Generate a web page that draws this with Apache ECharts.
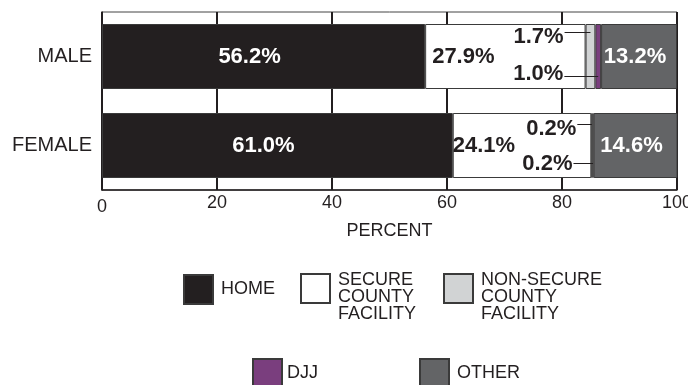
<!DOCTYPE html>
<html>
<head>
<meta charset="utf-8">
<script src="https://cdn.jsdelivr.net/npm/echarts@6/dist/echarts.min.js"></script>
<style>
html, body { margin: 0; padding: 0; background: #fff; }
#main { width: 688px; height: 385px; }
</style>
</head>
<body>
<div id="main"></div>
<script>
// data
var categories = ['MALE', 'FEMALE'];
var seriesNames = ['HOME', 'SECURE COUNTY FACILITY', 'NON-SECURE COUNTY FACILITY', 'DJJ', 'OTHER'];
var homeData = [56.2, 61.0];
var secureData = [27.9, 24.1];
var nonSecureData = [1.7, 0.2];
var djjData = [1.0, 0.2];
var otherData = [13.2, 14.6];
var xTicks = [0, 20, 40, 60, 80, 100];

var colors = ['#231f20', '#ffffff', '#d1d3d4', '#7a3e7e', '#636466'];
var ink = '#231f20';
var font = 'Liberation Sans, Arial, Helvetica, sans-serif';
var barH = 65;

var chart = echarts.init(document.getElementById('main'));

function pct(p) {
    return p.value.toFixed(1) + '%';
}

function bigLabel(color, extra) {
    var l = {
        show: true,
        formatter: pct,
        color: color,
        fontFamily: font,
        fontWeight: 'bold',
        fontSize: 22
    };
    for (var k in extra) l[k] = extra[k];
    return l;
}

function barSeries(i, data, label, more) {
    var s = {
        name: seriesNames[i],
        type: 'bar',
        stack: 'total',
        barWidth: barH,
        data: data,
        itemStyle: { color: colors[i], borderColor: '#3a3a3a', borderWidth: 1 },
        label: label,
        emphasis: { disabled: true }
    };
    for (var k in more) s[k] = more[k];
    return s;
}

// offsets of the pulled-out labels for the thin segments (male / female)
var upperGap = [22, 15], upperText = [13, 16], upperLine = [8, 11];
var lowerGap = [32, 20], lowerText = [15.5, 14.5], lowerLine = [13, 15];

function calloutLayout(upper) {
    return function (p) {
        var r = p.rect;
        var i = p.dataIndex;
        var right = r.x - (upper ? upperGap[i] : lowerGap[i]);
        var y = upper ? r.y + upperText[i] : r.y + r.height - lowerText[i];
        return { x: right, y: y, align: 'right', verticalAlign: 'middle' };
    };
}

var secureItems = secureData.map(function (v, i) {
    return { value: v, label: { distance: i === 0 ? 7 : 0 } };
});

// leader lines from the pulled-out labels to the thin segments
var calloutData = categories.map(function (c, i) {
    return [homeData[i] + secureData[i], nonSecureData[i], djjData[i], i];
});

function renderCallouts(params, api) {
    var start = api.value(0), ns = api.value(1), dj = api.value(2), i = api.value(3);
    var p0 = api.coord([start, i]);
    var p1 = api.coord([start + ns, i]);
    var nsMid = api.coord([start + ns / 2, i])[0];
    var djMid = api.coord([start + ns + dj / 2, i])[0];
    var top = p0[1] - barH / 2, bottom = p0[1] + barH / 2;
    var y1 = Math.round(top + upperLine[i]) + 0.5;
    var y2 = Math.round(bottom - lowerLine[i]) + 0.5;
    var style = { stroke: ink, lineWidth: 1 };
    return {
        type: 'group',
        children: [
            { type: 'line', shape: { x1: p0[0] - upperGap[i] + 1, y1: y1, x2: nsMid, y2: y1 }, style: style },
            { type: 'line', shape: { x1: p1[0] - lowerGap[i] + 1, y1: y2, x2: djMid, y2: y2 }, style: style }
        ]
    };
}

function legendItem(i, left, top, padLeft) {
    var multi = i === 1 || i === 2;
    return {
        data: [seriesNames[i]],
        left: left,
        top: top,
        padding: 0,
        icon: 'rect',
        itemWidth: 29,
        itemHeight: 29,
        selectedMode: false,
        formatter: function (name) {
            var t = name.replace(' COUNTY', '\nCOUNTY').replace(' FACILITY', '\nFACILITY');
            return multi ? ' \n' + t : t;
        },
        textStyle: {
            fontFamily: font,
            fontSize: 18,
            lineHeight: 17,
            color: ink,
            padding: [0, 0, 0, padLeft]
        }
    };
}

var option = {
    animation: false,
    textStyle: { fontFamily: font },
    grid: {
        left: 102,
        right: 11,
        top: 12,
        bottom: 195,
        show: true,
        borderColor: '#444',
        borderWidth: 1,
        outerBoundsMode: 'none'
    },
    legend: [
        legendItem(0, 183, 274, 3),
        legendItem(1, 300, 254, 3),
        legendItem(2, 443, 254, 3),
        legendItem(3, 252, 358, 0),
        legendItem(4, 419, 358, 3)
    ],
    xAxis: {
        type: 'value',
        min: xTicks[0],
        max: xTicks[xTicks.length - 1],
        interval: xTicks[1] - xTicks[0],
        name: 'PERCENT',
        nameLocation: 'middle',
        nameGap: 32,
        nameTextStyle: { fontFamily: font, fontSize: 18, color: ink },
        axisLine: { show: true, lineStyle: { color: ink, width: 1.5 } },
        axisTick: { show: false },
        axisLabel: {
            fontFamily: font, fontSize: 18, color: ink, margin: 4,
            formatter: function (v) { return v === 0 ? '{low|0}' : String(v); },
            rich: { low: { fontFamily: font, fontSize: 18, color: ink, padding: [4, 0, 0, 0] } }
        },
        splitLine: { show: true, lineStyle: { color: ink, width: 2 } }
    },
    yAxis: {
        type: 'category',
        data: categories,
        inverse: true,
        axisLine: { show: true, lineStyle: { color: ink, width: 1.5 } },
        axisTick: { show: false },
        axisLabel: { fontFamily: font, fontSize: 20, color: ink, margin: 10 }
    },
    series: [
        barSeries(0, homeData, bigLabel('#ffffff', { position: 'inside', offset: [-14, 0] })),
        barSeries(1, secureItems, bigLabel(ink, { position: 'insideLeft' })),
        barSeries(2, nonSecureData, bigLabel(ink, {}), { labelLayout: calloutLayout(true) }),
        barSeries(3, djjData, bigLabel(ink, {}), { labelLayout: calloutLayout(false) }),
        barSeries(4, otherData, bigLabel('#ffffff', { position: 'inside', offset: [-4, 0] })),
        {
            type: 'custom',
            name: 'callouts',
            silent: true,
            z: 5,
            encode: { x: 0, y: 3 },
            data: calloutData,
            renderItem: renderCallouts
        }
    ]
};

chart.setOption(option);
</script>
</body>
</html>
